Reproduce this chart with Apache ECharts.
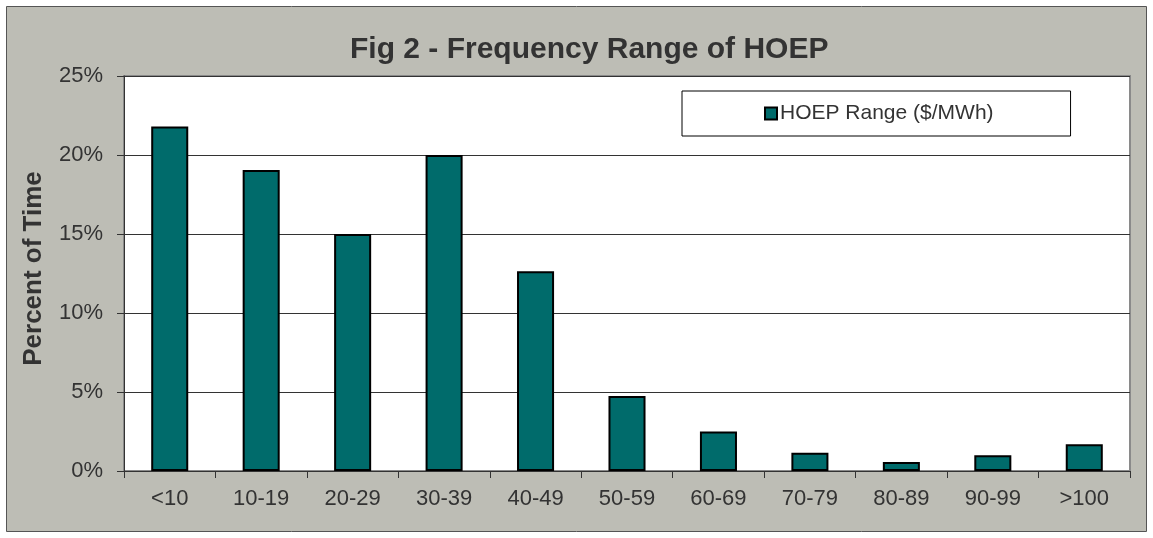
<!DOCTYPE html>
<html><head><meta charset="utf-8">
<script src="https://cdn.jsdelivr.net/npm/echarts@6/dist/echarts.min.js"></script>
<style>html,body{margin:0;padding:0;background:#fff}#c{width:1153px;height:538px}</style>
</head><body><div id="c"></div>
<script>
const categories = ['<10','10-19','20-29','30-39','40-49','50-59','60-69','70-79','80-89','90-99','>100'];
const values = [21.8, 19.05, 15.0, 20.0, 12.65, 4.75, 2.5, 1.15, 0.57, 1.0, 1.7];
const seriesName = 'HOEP Range ($/MWh)';
const titleText = 'Fig 2 - Frequency Range of HOEP';
const yName = 'Percent of Time';

const chart = echarts.init(document.getElementById('c'), null, {renderer:'canvas'});
const font = '"Liberation Sans", Arial, sans-serif';
chart.setOption({
  animation: false,
  backgroundColor: '#fff',
  graphic: [
    {type:'rect', z:-10, shape:{x:6.5,y:6.5,width:1140,height:525}, style:{fill:'#BDBDB5', stroke:'#555', lineWidth:1}},
    {type:'rect', z:-5, shape:{x:124,y:76,width:1006,height:395}, style:{fill:'#fff', stroke:'#8a8a8a', lineWidth:2}}
  ],
  title: {text: titleText, left: 345, top: 30,
    textStyle:{fontFamily:font, fontSize:30, fontWeight:'bold', color:'#333'}},
  legend: {
    data:[{name: seriesName, icon:'rect'}], left: 682, top: 91,
    orient:'horizontal', itemWidth:12, itemHeight:12, itemGap:4,
    padding:[12,77,12,82],
    backgroundColor:'#fff', borderColor:'#000', borderWidth:1, borderRadius:0,
    textStyle:{fontFamily:font, fontSize:21, color:'#333', padding:[0,0,0,-2]}
  },
  grid: {left:124, right:23, top:76, bottom:67, containLabel:false},
  xAxis: {
    type:'category', data: categories,
    axisLine:{lineStyle:{color:'#333', width:1}},
    axisTick:{show:true, length:7, lineStyle:{color:'#333'}},
    axisLabel:{fontFamily:font, fontSize:22, color:'#333', margin:17}
  },
  yAxis: {
    type:'value', min:0, max:25, interval:5,
    name: yName, nameLocation:'middle', nameGap:77, nameRotate:90,
    nameTextStyle:{fontFamily:font, fontSize:26, fontWeight:'bold', color:'#333', padding:[0,0,0,10]},
    axisLine:{show:true, lineStyle:{color:'#333'}},
    axisTick:{show:true, length:7, inside:false, lineStyle:{color:'#333'}},
    axisLabel:{fontFamily:font, fontSize:22, color:'#333', margin:21, formatter: v => v + '%'},
    splitLine:{lineStyle:{color:'#333', width:1}}
  },
  series: [{
    name: seriesName, type:'bar', data: values, barWidth:'40.5%',
    itemStyle:{color:'#006B6B', borderColor:'#000', borderWidth:2}
  }]
});
</script></body></html>
